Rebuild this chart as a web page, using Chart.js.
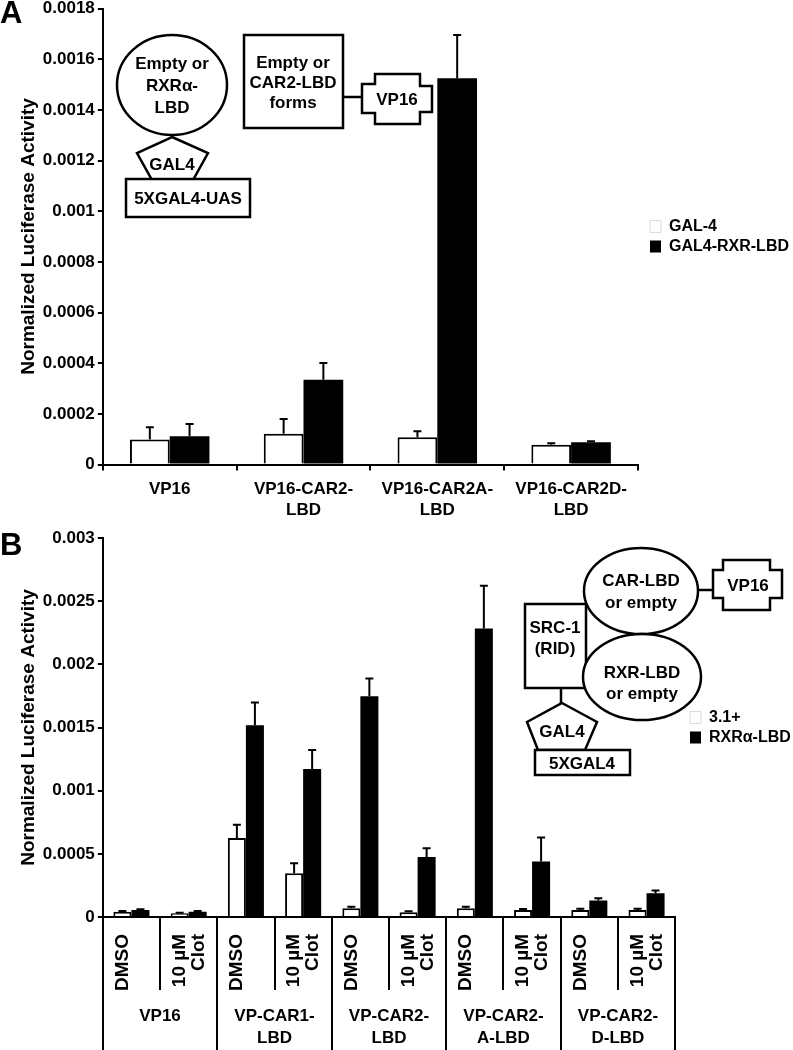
<!DOCTYPE html>
<html>
<head>
<meta charset="utf-8">
<script src="https://cdn.jsdelivr.net/npm/chart.js@4.4.1/dist/chart.umd.min.js"></script>
<style>
  body { margin: 0; background: #fff; }
  #page { position: relative; width: 793px; height: 1050px; overflow: hidden; background: #fff; }
  #chartA { position: absolute; left: 0; top: -3px; }
  #chartB { position: absolute; left: 0; top: 520px; }
  #art { position: absolute; left: 0; top: 0; pointer-events: none; }
  #art text { font-family: 'Liberation Sans', Arial, sans-serif; font-weight: bold; font-size: 17px; text-anchor: middle; dominant-baseline: central; fill: #000; }
  #art .letra { font-size: 31px; text-anchor: start; dominant-baseline: alphabetic; }
  #art .forma { fill: #fff; stroke: #000; stroke-width: 2.5; }
  #art line { stroke: #000; stroke-width: 2.5; }
</style>
</head>
<body>
<div id="page">
  <canvas id="chartA" width="793" height="532"></canvas>
  <canvas id="chartB" width="793" height="530"></canvas>

  <svg id="art" width="793" height="1050">
    <text class="letra" x="0" y="23">A</text>
    <text class="letra" x="0" y="555">B</text>

    <!-- esquema panel A -->
    <line x1="172" y1="134" x2="172" y2="139"></line>
    <ellipse class="forma" cx="172" cy="85" rx="55" ry="50"></ellipse>
    <text x="172" y="63">Empty or</text>
    <text x="172" y="85">RXRα-</text>
    <text x="172" y="107">LBD</text>
    <polygon class="forma" points="172,137 208,153 193,180 152,180 137,153"></polygon>
    <text x="172" y="164">GAL4</text>
    <rect class="forma" x="126" y="179" width="124" height="38"></rect>
    <text x="188" y="198">5XGAL4-UAS</text>
    <rect class="forma" x="244" y="35" width="99" height="93"></rect>
    <text x="293" y="62">Empty or</text>
    <text x="293" y="82">CAR2-LBD</text>
    <text x="293" y="102">forms</text>
    <line x1="343" y1="97" x2="362" y2="97"></line>
    <polygon class="forma" points="362,84 375,84 375,74 420,74 420,86 432,86 432,112 420,112 420,124 375,124 375,113 362,113"></polygon>
    <text x="397" y="99">VP16</text>

    <!-- esquema panel B -->
    <rect class="forma" x="525" y="604" width="61" height="84"></rect>
    <text x="555" y="627">SRC-1</text>
    <text x="555" y="648">(RID)</text>
    <ellipse class="forma" cx="641" cy="591" rx="57" ry="43"></ellipse>
    <text x="641" y="580">CAR-LBD</text>
    <text x="641" y="602">or empty</text>
    <ellipse class="forma" cx="642" cy="677" rx="59" ry="43"></ellipse>
    <text x="642" y="672">RXR-LBD</text>
    <text x="642" y="693">or empty</text>
    <line x1="561" y1="688" x2="561" y2="704"></line>
    <polygon class="forma" points="562,703 597,722 585,750 538,750 527,722"></polygon>
    <text x="562" y="731">GAL4</text>
    <rect class="forma" x="535" y="750" width="95" height="25"></rect>
    <text x="582" y="763">5XGAL4</text>
    <line x1="698" y1="590" x2="713" y2="590"></line>
    <polygon class="forma" points="713,570 723,570 723,560 770,560 770,570 782,570 782,598 770,598 770,610 723,610 723,598 713,598"></polygon>
    <text x="748" y="585">VP16</text>
  </svg>
</div>

<script>
// ---- panel A: two-hybrid GAL4 / VP16 ----
var categoriasA = [['VP16'], ['VP16-CAR2-', 'LBD'], ['VP16-CAR2A-', 'LBD'], ['VP16-CAR2D-', 'LBD']];
var gal4 = [0.000099, 0.000121, 0.000108, 0.000078];
var gal4Err = [0.000048, 0.000059, 0.000023, 0.000006];
var gal4Rxr = [0.000112, 0.000335, 0.001525, 0.000088];
var gal4RxrErr = [0.000048, 0.000066, 0.00017, 0.000004];
var ticksA = [0, 0.0002, 0.0004, 0.0006, 0.0008, 0.001, 0.0012, 0.0014, 0.0016, 0.0018];

// ---- panel B: SRC-1 recruitment ----
var tratamientos = ['DMSO', ['10 µM', 'Clot'], 'DMSO', ['10 µM', 'Clot'], 'DMSO', ['10 µM', 'Clot'],
                    'DMSO', ['10 µM', 'Clot'], 'DMSO', ['10 µM', 'Clot']];
var gruposB = [['VP16'], ['VP-CAR1-', 'LBD'], ['VP-CAR2-', 'LBD'], ['VP-CAR2-', 'A-LBD'], ['VP-CAR2-', 'D-LBD']];
var vacio = [0.000042, 0.000029, 0.000625, 0.000347, 0.000069, 0.000037, 0.000069, 0.000056, 0.000056, 0.000056];
var vacioErr = [0.000006, 0.000005, 0.000105, 0.000079, 0.000013, 0.000008, 0.000013, 0.000007, 0.000009, 0.000009];
var rxrB = [0.000056, 0.000042, 0.001518, 0.001172, 0.001748, 0.000474, 0.002283, 0.000439, 0.00013, 0.000188];
var rxrBErr = [0.000006, 0.000006, 0.00018, 0.00015, 0.00014, 0.00007, 0.00034, 0.00019, 0.000018, 0.000021];
var ticksB = [0, 0.0005, 0.001, 0.0015, 0.002, 0.0025, 0.003];

Chart.defaults.font.family = "'Liberation Sans', Arial, sans-serif";
Chart.defaults.font.size = 17;
Chart.defaults.font.weight = 'bold';
Chart.defaults.color = '#000';

// solo la barra de error superior
var barrasError = {
    id: 'barrasError',
    afterDatasetsDraw: function (chart) {
        var ctx = chart.ctx;
        var y = chart.scales.y;
        ctx.save();
        ctx.strokeStyle = '#000';
        ctx.lineWidth = 2;
        chart.data.datasets.forEach(function (ds, i) {
            var meta = chart.getDatasetMeta(i);
            meta.data.forEach(function (bar, j) {
                var tope = y.getPixelForValue(ds.data[j] + ds.errores[j]);
                ctx.beginPath();
                ctx.moveTo(bar.x, bar.y);
                ctx.lineTo(bar.x, tope);
                ctx.moveTo(bar.x - 4, tope);
                ctx.lineTo(bar.x + 4, tope);
                ctx.stroke();
            });
        });
        ctx.restore();
    }
};

// mueve la leyenda a una x fija
function leyendaEn(x) {
    return {
        id: 'leyendaEn',
        afterLayout: function (chart) {
            var lg = chart.legend;
            var w = lg.right - lg.left;
            lg.left = x - lg.options.labels.padding;
            lg.right = lg.left + w;
        }
    };
}

function ejeY(max, ticks) {
    return {
        min: 0,
        max: max,
        afterBuildTicks: function (scale) {
            scale.ticks = ticks.map(function (v) { return { value: v }; });
        },
        ticks: {
            padding: 3,
            font: { size: 17, weight: 'bold', lineHeight: 1 },
            callback: function (v) { return String(Number(v.toPrecision(6))); }
        },
        grid: { drawOnChartArea: false, tickLength: 5, color: '#000', lineWidth: 2 },
        border: { color: '#000', width: 2 },
        title: {
            display: true,
            text: 'Normalized Luciferase Activity',
            font: { size: 19, weight: 'bold' },
            padding: { top: 12, bottom: 0 }
        }
    };
}

function leyenda() {
    return {
        position: 'right',
        fullSize: false,
        labels: {
            boxWidth: 11,
            boxHeight: 12,
            padding: 4,
            font: { size: 16, weight: 'bold' },
            generateLabels: function (chart) {
                var items = Chart.defaults.plugins.legend.labels.generateLabels(chart);
                items[0].strokeStyle = '#dcdcdc';
                items[0].lineWidth = 1;
                return items;
            }
        }
    };
}

new Chart(document.getElementById('chartA'), {
    type: 'bar',
    data: {
        labels: categoriasA,
        datasets: [{
            label: 'GAL-4',
            data: gal4,
            errores: gal4Err,
            backgroundColor: '#fff',
            borderColor: '#000',
            borderWidth: 2
        }, {
            label: 'GAL4-RXR-LBD',
            data: gal4Rxr,
            errores: gal4RxrErr,
            backgroundColor: '#000',
            borderWidth: 0
        }]
    },
    options: {
        responsive: false,
        animation: false,
        devicePixelRatio: 1,
        events: [],
        layout: { padding: { left: 5, right: 2, top: 0, bottom: 0 } },
        datasets: { bar: { categoryPercentage: 0.594, barPercentage: 1 } },
        scales: {
            x: {
                ticks: { padding: 8, font: { size: 17, weight: 'bold', lineHeight: 1.25 }, maxRotation: 0, autoSkip: false },
                grid: { drawOnChartArea: false, tickLength: 6, color: '#000', lineWidth: 2 },
                border: { color: '#000', width: 2 }
            },
            y: ejeY(0.0018, ticksA)
        },
        plugins: {
            legend: leyenda(),
            tooltip: { enabled: false }
        }
    },
    plugins: [barrasError, leyendaEn(650)]
});

new Chart(document.getElementById('chartB'), {
    type: 'bar',
    data: {
        labels: tratamientos,
        datasets: [{
            label: '3.1+',
            data: vacio,
            errores: vacioErr,
            backgroundColor: '#fff',
            borderColor: '#000',
            borderWidth: 2
        }, {
            label: 'RXRα-LBD',
            data: rxrB,
            errores: rxrBErr,
            backgroundColor: '#000',
            borderWidth: 0
        }]
    },
    options: {
        responsive: false,
        animation: false,
        devicePixelRatio: 1,
        events: [],
        layout: { padding: { left: 5, right: 3, top: 18, bottom: 0 } },
        datasets: { bar: { categoryPercentage: 0.63, barPercentage: 1 } },
        scales: {
            x: {
                weight: 0,
                // las etiquetas giradas quedan dentro de las rayas divisorias
                afterFit: function (scale) { scale.height = 73; },
                ticks: {
                    padding: -56,
                    labelOffset: -9,
                    minRotation: 90,
                    maxRotation: 90,
                    autoSkip: false,
                    font: { size: 19, weight: 'bold', lineHeight: 1 }
                },
                grid: { drawOnChartArea: false, tickLength: 73, color: '#000', lineWidth: 2 },
                border: { color: '#000', width: 2 }
            },
            x2: {
                type: 'category',
                position: 'bottom',
                weight: 1,
                labels: gruposB,
                offset: true,
                afterFit: function (scale) { scale.height = 60; },
                ticks: { padding: -46, maxRotation: 0, autoSkip: false, font: { size: 17, weight: 'bold', lineHeight: 1.25 } },
                grid: { offset: true, drawOnChartArea: false, tickLength: 62, color: '#000', lineWidth: 2 },
                border: { display: false }
            },
            y: ejeY(0.003, ticksB)
        },
        plugins: {
            legend: leyenda(),
            tooltip: { enabled: false }
        }
    },
    plugins: [barrasError, leyendaEn(690)]
});
</script>
</body>
</html>
